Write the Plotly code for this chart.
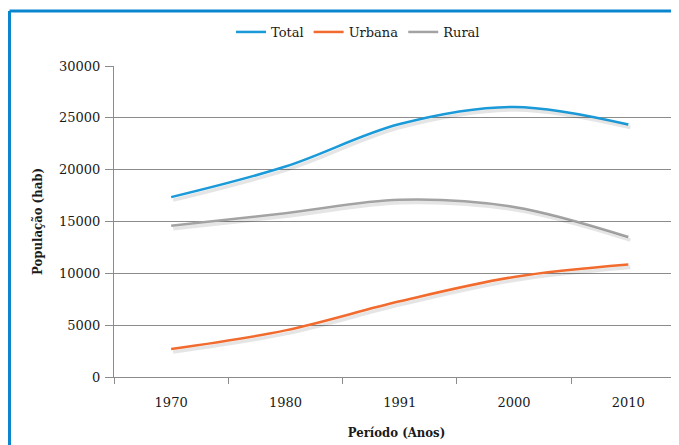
import plotly.graph_objects as go

years = ["1970", "1980", "1991", "2000", "2010"]
total = [17350, 20300, 24400, 26050, 24350]
urbana = [2700, 4500, 7300, 9650, 10850]
rural = [14600, 15800, 17100, 16400, 13500]
series = [("Total", total, "#1A9AD8"), ("Urbana", urbana, "#F26B2E"), ("Rural", rural, "#A3A3A3")]
yticks = [0, 5000, 10000, 15000, 20000, 25000, 30000]

OFF = 8                      # page body margin
W, H = 679 - OFF, 445 - OFF
L, T, B = 114 - OFF, 66 - OFF, 68
pw, ph = W - L, H - T - B
cat_w = 114.3
xr = [-0.5, -0.5 + pw / cat_w]
yr = [0, 30000]
dx, dy = 2, 3  # shadow offset in px
sx = dx / cat_w
sy = dy * (yr[1] - yr[0]) / ph

fig = go.Figure()
font = dict(family="DejaVu Serif, serif", size=13, color="#1a1a1a")
tfont = dict(family="DejaVu Serif Condensed, DejaVu Serif, serif", size=13, color="#1a1a1a")

for name, vals, col in series:
    fig.add_trace(go.Scatter(x=years, y=vals, mode="lines", xaxis="x2", yaxis="y2",
                             line=dict(color="rgba(0,0,0,0.10)", width=3.5, shape="spline", smoothing=1.0),
                             showlegend=False, hoverinfo="skip"))
for name, vals, col in series:
    fig.add_trace(go.Scatter(x=years, y=vals, mode="lines", name=name,
                             line=dict(color=col, width=2.5, shape="spline", smoothing=1.0)))

border_col = "#0A86CF"
top_y = (H - B - (11 - OFF)) / ph
left_x = (1.5 - L) / pw

fig.update_layout(
    width=W, height=H,
    margin=dict(l=L, r=0, t=T, b=B),
    paper_bgcolor="white", plot_bgcolor="white",
    font=font,
    showlegend=True,
    legend=dict(orientation="h", x=(358 - OFF - L) / pw, xanchor="center",
                y=(H - B - (32 - OFF)) / ph, yanchor="middle", font=font,
                bgcolor="rgba(0,0,0,0)", itemwidth=30, tracegroupgap=0),
    xaxis=dict(type="category", categoryorder="array", categoryarray=years,
               range=xr, showgrid=False, showline=True, linecolor="#8c8c8c", linewidth=1,
               ticks="outside", tickson="boundaries", ticklen=6, tickcolor="#8c8c8c",
               ticklabelstandoff=13, zeroline=False,
               title=dict(text="<b>Período (Anos)</b>", standoff=19, font=tfont)),
    yaxis=dict(range=yr, tickvals=yticks, ticktext=[str(v) for v in yticks],
               showgrid=True, gridcolor="#8c8c8c", gridwidth=1,
               showline=True, linecolor="#8c8c8c", linewidth=1,
               ticks="outside", ticklen=8, tickcolor="#8c8c8c", zeroline=False,
               ticklabelstandoff=2,
               title=dict(text="<b>População (hab)</b>", standoff=13, font=tfont)),
    xaxis2=dict(type="category", categoryorder="array", categoryarray=years,
                range=[xr[0] - sx, xr[1] - sx], overlaying="x", visible=False),
    yaxis2=dict(range=[yr[0] + sy, yr[1] + sy], overlaying="y", visible=False),
    shapes=[
        dict(type="line", xref="paper", yref="paper", x0=left_x, x1=1.2, y0=top_y, y1=top_y,
             line=dict(color=border_col, width=3), layer="above"),
        dict(type="line", xref="paper", yref="paper", x0=left_x, x1=left_x, y0=-1, y1=top_y,
             line=dict(color=border_col, width=3), layer="above"),
    ],
)

fig.write_html("out.html")
